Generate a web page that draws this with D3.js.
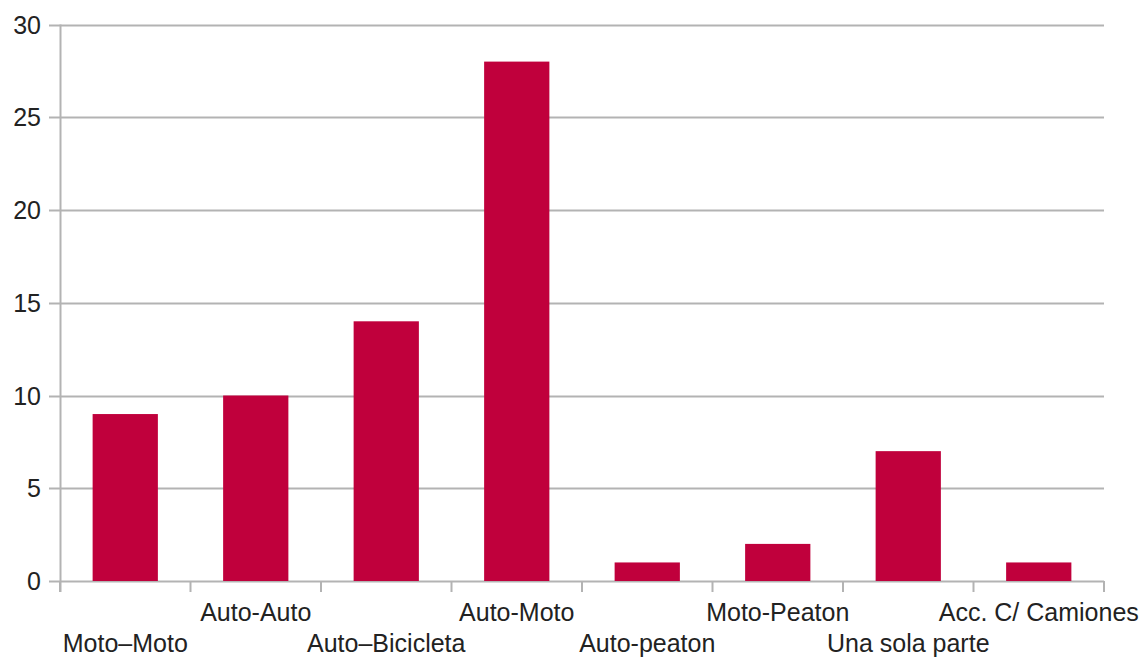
<!DOCTYPE html>
<html>
<head>
<meta charset="utf-8">
<script src="https://cdn.jsdelivr.net/npm/d3@7"></script>
<style>
  body { margin: 0; background: #fff; }
  text { font-family: "Liberation Sans", Arial, sans-serif; }
</style>
</head>
<body>
<div id="mychart"></div>
<script>
// accident counts by type

const categories = ["Moto–Moto", "Auto-Auto", "Auto–Bicicleta", "Auto-Moto", "Auto-peaton", "Moto-Peaton", "Una sola parte", "Acc. C/ Camiones"]
const values = [9, 10, 14, 28, 1, 2, 7, 1]
const yTicks = [0, 5, 10, 15, 20, 25, 30]

const chartWidth = 1144
const chartHeight = 658

const marginTop = 24.5
const marginRight = 40
const marginBottom = 77
const marginLeft = 60

const barColor = "#c0003c"
const gridColor = "#b3b3b3"
const labelSize = "25px"

const xScale = d3.scaleBand(categories, [marginLeft, chartWidth - marginRight])
  .paddingInner(0.5).paddingOuter(0.25)
const bandStep = xScale.step()
const yScale = d3.scaleLinear([0, 30], [chartHeight - marginBottom, marginTop])

const svg = d3.select("#mychart")
  .append("svg")
  .attr("width", chartWidth)
  .attr("height", chartHeight)
  .attr("viewBox", [0, 0, chartWidth, chartHeight])

// horizontal grid
svg.append("g")
  .selectAll("line")
  .data(yTicks)
  .join("line")
  .attr("x1", marginLeft - 11)
  .attr("x2", chartWidth - marginRight)
  .attr("y1", d => Math.round(yScale(d)) + 0.5)
  .attr("y2", d => Math.round(yScale(d)) + 0.5)
  .attr("stroke", gridColor)
  .attr("stroke-width", 2)

// y labels
svg.append("g")
  .selectAll("text")
  .data(yTicks)
  .join("text")
  .attr("x", marginLeft - 19)
  .attr("y", d => yScale(d) + 9)
  .attr("text-anchor", "end")
  .attr("font-size", labelSize)
  .attr("fill", "#222")
  .text(d => d)

// bars
svg.append("g")
  .selectAll("rect")
  .data(values)
  .join("rect")
  .attr("x", (d, i) => xScale(categories[i]))
  .attr("y", d => yScale(d))
  .attr("width", xScale.bandwidth())
  .attr("height", d => yScale(0) - yScale(d))
  .attr("fill", barColor)

// y axis line
svg.append("line")
  .attr("x1", marginLeft + 0.5)
  .attr("x2", marginLeft + 0.5)
  .attr("y1", marginTop)
  .attr("y2", yScale(0) + 11)
  .attr("stroke", gridColor)
  .attr("stroke-width", 2)

// category tick marks at band boundaries
const boundaries = d3.range(categories.length + 1).map(i => marginLeft + i * bandStep)
svg.append("g")
  .selectAll("line")
  .data(boundaries)
  .join("line")
  .attr("x1", d => d)
  .attr("x2", d => d)
  .attr("y1", yScale(0))
  .attr("y2", yScale(0) + 11)
  .attr("stroke", gridColor)
  .attr("stroke-width", 2)

// x labels, alternating rows
svg.append("g")
  .selectAll("text")
  .data(categories)
  .join("text")
  .attr("x", d => xScale(d) + xScale.bandwidth() / 2)
  .attr("y", (d, i) => i % 2 === 0 ? 652 : 621)
  .attr("text-anchor", "middle")
  .attr("font-size", labelSize)
  .attr("fill", "#222")
  .text(d => d)
</script>
</body>
</html>
